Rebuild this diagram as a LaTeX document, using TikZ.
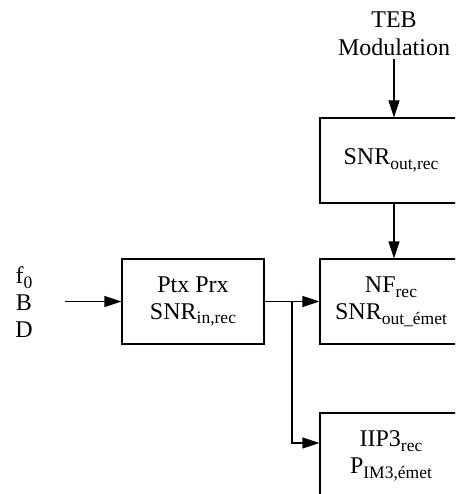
\documentclass[tikz,border=0pt]{standalone}
\usepackage{fontspec}
\setmainfont{Liberation Serif}
\usetikzlibrary{arrows.meta}
\newcommand\sbx[1]{\raisebox{-0.2em}{\fontsize{17.5}{17.5}\selectfont #1}}
\begin{document}
\begin{tikzpicture}[x=1pt,y=-1pt, line width=1.1pt,
  >={Triangle[length=17pt,width=11pt]},
  blockbox/.style={draw, minimum width=142pt, minimum height=85pt, inner sep=0pt,
    align=center, font=\fontsize{24}{27}\selectfont},
  lbl/.style={align=center, font=\fontsize{24}{28}\selectfont, inner sep=3pt}]
\useasboundingbox (0,0) rectangle (455,494);
\clip (0,0) rectangle (455,494);
\node[lbl, anchor=south] (teb) at (394,59) {TEB\\Modulation};
\node[blockbox] (snr) at (391,160.5) {SNR\sbx{out,rec}};
\node[blockbox] (nf) at (391,301.5) {NF\sbx{rec}\\SNR\sbx{out\_émet}};
\node[blockbox] (ptx) at (193,301.5) {Ptx Prx\\SNR\sbx{in,rec}};
\node[blockbox] (iip) at (391,455.5) {IIP3\sbx{rec}\\P\sbx{IM3,émet}};
\node[lbl, font=\fontsize{24}{27}\selectfont] (params) at (24,302) {f\sbx{0}\\B\\D};
\draw[->] (teb.south) -- (teb.south |- snr.north);
\draw[->] ([xshift=3pt]snr.south) -- ([xshift=3pt]nf.north);
\coordinate (inStart) at (65,301.5);
\draw[->] (inStart) -- (ptx.west);
\draw[->] (ptx.east) -- (nf.west);
\coordinate (br) at (292,301.5);
\draw[->] (br) |- ([yshift=12.5pt]iip.west);
\end{tikzpicture}
\end{document}
